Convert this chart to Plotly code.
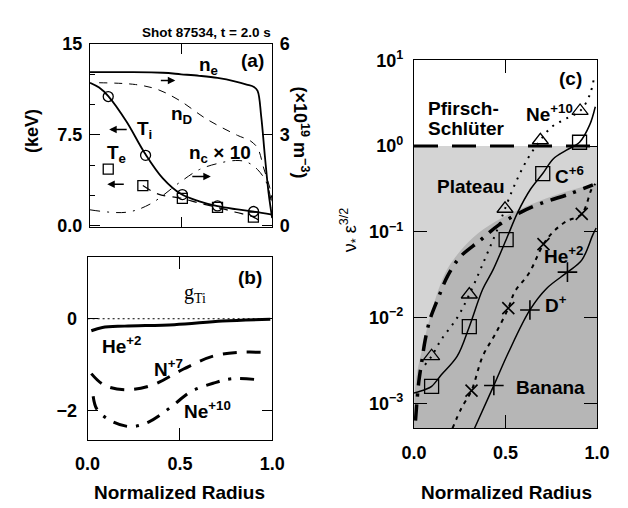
import plotly.graph_objects as go

W, H = 628, 508
FONT = "Liberation Sans"

# ---------------- Panel (a) data ----------------
ne_r = [0, 0.2, 0.4, 0.5, 0.6, 0.7, 0.8, 0.86, 0.9, 0.92, 0.94, 0.96, 0.98, 1.0]
ne_v = [5.07, 5.07, 5.05, 5.0, 4.95, 4.88, 4.76, 4.66, 4.58, 4.45, 3.6, 2.3, 1.1, 0.25]   # 1e19 m^-3

nD_r = [0.05, 0.25, 0.37, 0.49, 0.64, 0.81, 0.88, 0.92, 0.955, 0.99, 1.0]
nD_v = [4.72, 4.66, 4.5, 4.14, 3.52, 2.98, 2.8, 2.56, 1.87, 1.18, 0.8]

nc_r = [0, 0.2, 0.33, 0.5, 0.6, 0.7, 0.8, 0.86, 0.92, 0.97, 1.0]
nc_v = [0.52, 0.44, 0.71, 1.46, 1.85, 2.05, 2.15, 2.1, 1.85, 1.4, 0.6]   # n_c x 10

Ti_r = [0, 0.05, 0.1, 0.2, 0.3, 0.4, 0.5, 0.6, 0.7, 0.8, 0.9, 1.0]
Ti_v = [11.8, 11.4, 10.7, 8.6, 6.0, 3.9, 2.6, 2.0, 1.6, 1.35, 1.15, 0.9]   # keV
Ti_pts_r = [0.1, 0.305, 0.507, 0.70, 0.898]
Ti_pts_v = [10.66, 5.8, 2.56, 1.62, 1.16]

Te_r = [0.29, 0.375, 0.507, 0.6, 0.7, 0.8, 0.897, 0.95]
Te_v = [3.3, 2.6, 2.24, 1.85, 1.5, 1.1, 0.7, 0.2]
Te_pts_r = [0.1, 0.29, 0.507, 0.70, 0.897]
Te_pts_v = [4.67, 3.3, 2.24, 1.5, 0.7]

# ---------------- Panel (b) data ----------------
gHe_r = [0.02, 0.08, 0.2, 0.47, 0.73, 0.99]
gHe_v = [-0.26, -0.19, -0.16, -0.13, -0.05, -0.01]
gN_r = [0.02, 0.09, 0.21, 0.35, 0.52, 0.68, 0.82, 0.96]
gN_v = [-1.19, -1.44, -1.54, -1.44, -1.09, -0.81, -0.73, -0.73]
gNe_r = [0.03, 0.05, 0.12, 0.23, 0.33, 0.45, 0.56, 0.68, 0.78, 0.94]
gNe_v = [-1.68, -1.96, -2.2, -2.34, -2.24, -1.92, -1.58, -1.40, -1.30, -1.33]

# ---------------- Panel (c) data ----------------
ps_level = 1.0
band_r = [0.0, 0.009, 0.044, 0.096, 0.148, 0.2, 0.32, 0.445, 0.585, 0.81, 1.0]
band_v = [6.3e-4, 1.78e-3, 4.27e-3, 1.17e-2, 2.57e-2, 4.27e-2, 8.5e-2, 0.132, 0.186, 0.285, 0.369]

pb_r = [0.008, 0.026, 0.044, 0.061, 0.087, 0.131, 0.183, 0.253, 0.358, 0.462, 0.585, 0.707, 0.846, 0.977]
pb_v = [6.3e-4, 1.78e-3, 3.24e-3, 5.5e-3, 9.5e-3, 1.67e-2, 3.05e-2, 5.13e-2, 7.85e-2, 0.12, 0.17, 0.22, 0.275, 0.353]

Ne_r = [0.06, 0.096, 0.148, 0.236, 0.302, 0.41, 0.45, 0.497, 0.55, 0.62, 0.69, 0.75, 0.83, 0.907, 0.96, 0.985]
Ne_v = [2.82e-3, 3.55e-3, 5.5e-3, 1.0e-2, 1.86e-2, 6.3e-2, 0.1, 0.186, 0.355, 0.708, 1.17, 1.66, 2.09, 2.57, 3.98, 6.6]
Ne_pts_r = [0.096, 0.302, 0.497, 0.69, 0.907]
Ne_pts_v = [3.55e-3, 1.86e-2, 0.186, 1.17, 2.57]

C_r = [0.0, 0.061, 0.096, 0.148, 0.236, 0.302, 0.375, 0.43, 0.503, 0.567, 0.637, 0.703, 0.76, 0.83, 0.904, 0.96, 0.99]
C_v = [1.32e-3, 1.45e-3, 1.58e-3, 2.14e-3, 3.55e-3, 7.85e-3, 2.14e-2, 3.55e-2, 8.1e-2, 0.17, 0.316, 0.479, 0.708, 0.891, 1.11, 1.78, 2.88]
C_pts_r = [0.096, 0.302, 0.503, 0.703, 0.904]
C_pts_v = [1.58e-3, 7.85e-3, 8.1e-2, 0.479, 1.11]

He_r = [0.21, 0.26, 0.314, 0.375, 0.445, 0.515, 0.55, 0.628, 0.707, 0.76, 0.83, 0.916, 0.97, 0.99]
He_v = [5.1e-4, 8.9e-4, 1.41e-3, 3.55e-3, 6.5e-3, 1.29e-2, 2.0e-2, 3.3e-2, 7.2e-2, 0.1, 0.132, 0.162, 0.316, 0.363]
He_pts_r = [0.314, 0.515, 0.707, 0.916]
He_pts_v = [1.41e-3, 1.29e-2, 7.2e-2, 0.162]

D_r = [0.33, 0.436, 0.515, 0.633, 0.724, 0.838, 0.916, 0.977, 0.995]
D_v = [5.1e-4, 1.62e-3, 3.89e-3, 1.23e-2, 2.19e-2, 3.39e-2, 4.68e-2, 9.3e-2, 0.111]
D_pts_r = [0.436, 0.633, 0.838]
D_pts_v = [1.62e-3, 1.23e-2, 3.39e-2]

c_ticks = [1e-3, 1e-2, 1e-1, 1e0, 1e1]
c_ticktext = ["10<sup>−3</sup>", "10<sup>−2</sup>", "10<sup>−1</sup>", "10<sup>0</sup>", "10<sup>1</sup>"]


def px(x):
    return x / W


def py(y):
    return 1 - y / H


fig = go.Figure()
K = "black"

def line(x, y, xa, ya, width=1.5, dash="solid", shape="spline", **kw):
    fig.add_trace(go.Scatter(x=x, y=y, xaxis=xa, yaxis=ya, mode="lines",
                             line=dict(color=K, width=width, dash=dash, shape=shape),
                             hoverinfo="skip", **kw))

def marks(x, y, xa, ya, symbol, size, lw=1.3):
    fig.add_trace(go.Scatter(x=x, y=y, xaxis=xa, yaxis=ya, mode="markers",
                             marker=dict(symbol=symbol, size=size, color=K,
                                         line=dict(color=K, width=lw)),
                             hoverinfo="skip"))

# Panel (a)
line(ne_r, ne_v, "x", "y2", width=1.8)
line(nD_r, nD_v, "x", "y2", width=1.0, dash="8px,7px")
line(nc_r, nc_v, "x", "y2", width=1.0, dash="10px,7px,2px,7px")
line(Ti_r, Ti_v, "x", "y", width=1.8)
marks(Ti_pts_r, Ti_pts_v, "x", "y", "circle-open", 10)
line(Te_r, Te_v, "x", "y", width=1.2, dash="9px,7px")
marks(Te_pts_r, Te_pts_v, "x", "y", "square-open", 10)

# Panel (b)
line(gHe_r, gHe_v, "x2", "y3", width=3)
line(gN_r, gN_v, "x2", "y3", width=3, dash="14px,10px")
line(gNe_r, gNe_v, "x2", "y3", width=3, dash="14px,9px,3px,9px")

# Panel (c)
fig.add_trace(go.Scatter(x=[0, 1, 1, 0], y=[ps_level, ps_level, 1e-4, 1e-4], xaxis="x3", yaxis="y4",
                         mode="lines", fill="toself", fillcolor="#d4d4d4", line=dict(width=0),
                         hoverinfo="skip"))
fig.add_trace(go.Scatter(x=[0, 1], y=[1e-4, 1e-4], xaxis="x3", yaxis="y4", mode="lines",
                         line=dict(width=0), hoverinfo="skip"))
fig.add_trace(go.Scatter(x=band_r, y=band_v, xaxis="x3", yaxis="y4", mode="lines",
                         fill="tonexty", fillcolor="#b6b6b6",
                         line=dict(width=0, shape="spline"), hoverinfo="skip"))
line([0, 1], [ps_level, ps_level], "x3", "y4", width=3, dash="24px,14px", shape="linear")
line(pb_r, pb_v, "x3", "y4", width=3.5, dash="16px,8px,3px,8px")
line(Ne_r, Ne_v, "x3", "y4", width=2, dash="2px,6px")
marks(Ne_pts_r, Ne_pts_v, "x3", "y4", "triangle-up-open", 14)
line(C_r, C_v, "x3", "y4", width=1.5)
marks(C_pts_r, C_pts_v, "x3", "y4", "square-open", 14)
line(He_r, He_v, "x3", "y4", width=2, dash="4px,5px")
marks(He_pts_r, He_pts_v, "x3", "y4", "x-thin-open", 12, lw=1.6)
line(D_r, D_v, "x3", "y4", width=1.5)
marks(D_pts_r, D_pts_v, "x3", "y4", "cross-thin-open", 14, lw=1.6)

tickfont = dict(family=FONT, size=18, color=K, weight="bold")
ax_common = dict(showline=True, linecolor=K, linewidth=1.2, mirror="ticks", ticks="inside",
                 tickcolor=K, tickwidth=1.2, showgrid=False, zeroline=False, tickfont=tickfont)
ax_nomirror = {k: v for k, v in ax_common.items() if k != "mirror"}

layout = dict(
    width=W, height=H, margin=dict(l=0, r=0, t=0, b=0),
    paper_bgcolor="white", plot_bgcolor="rgba(0,0,0,0)", showlegend=False,
    font=dict(family=FONT, color=K),
    xaxis=dict(domain=[px(72), px(262)], range=[0, 1], anchor="y", tickvals=[0, 0.5, 1],
               showticklabels=False, ticklen=10, **ax_common),
    yaxis=dict(domain=[py(216), py(25)], range=[-0.16, 15], anchor="x", tickvals=[0, 7.5, 15],
               ticktext=["0.0", "7.5", "15"], ticklen=10, ticklabelstandoff=3,
               minor=dict(tickvals=[2.5, 5, 10, 12.5], ticks="inside", ticklen=5, tickcolor=K),
               mirror=False, **ax_nomirror),
    yaxis2=dict(overlaying="y", side="right", anchor="x", range=[-0.064, 6], tickvals=[0, 3, 6],
                ticktext=["0", "3", "6"], ticklen=10, ticklabelstandoff=3,
                mirror=False, **ax_nomirror),
    xaxis2=dict(domain=[px(69.5), px(262)], range=[0, 1], anchor="y3", tickvals=[0, 0.5, 1],
                ticktext=["0.0", "0.5", "1.0"], ticklen=12, ticklabelstandoff=8, **ax_common),
    yaxis3=dict(domain=[py(437), py(247)], range=[-2.625, 1.333], anchor="x2", tickvals=[0, -2],
                ticktext=["0", "−2"], ticklen=10, ticklabelstandoff=6, **ax_common),
    xaxis3=dict(domain=[px(410), px(601)], range=[0, 1], anchor="y4", tickvals=[0, 0.5, 1],
                ticktext=["0.0", "0.5", "1.0"], ticklen=13, ticklabelstandoff=8, **ax_common),
    yaxis4=dict(domain=[py(425), py(42)], type="log", range=[-3.29, 1.0], anchor="x3",
                tickvals=c_ticks, ticktext=c_ticktext, ticklen=13, ticklabelstandoff=6, **ax_common),
)
fig.update_layout(**layout)

# zero reference line in (b)
fig.add_shape(type="line", xref="x2 domain", yref="y3", x0=0, x1=1, y0=0, y1=0,
              line=dict(color=K, width=1, dash="2px,3px"))

def txt(x, y, s, size=19, bold=True, xanchor="center", angle=0, family=FONT):
    f = dict(family=family, size=size, color=K)
    if bold:
        f["weight"] = "bold"
    fig.add_annotation(x=px(x), y=py(y), xref="paper", yref="paper", text=s, showarrow=False,
                       xanchor=xanchor, yanchor="middle", font=f, textangle=angle)

def arrow(hx, hy, tx, ty):
    fig.add_annotation(x=px(hx), y=py(hy), xref="paper", yref="paper", text="", showarrow=True,
                       ax=tx - hx, ay=ty - hy, axref="pixel", ayref="pixel",
                       arrowhead=2, arrowsize=1, arrowwidth=1.5, arrowcolor=K)

# Panel (a) texts
txt(263, 13, "Shot 87534, t = 2.0 s", size=13.5, xanchor="right")
txt(196, 48, "n<sub>e</sub>")
txt(242, 42, "(a)")
txt(168, 99, "n<sub>D</sub>")
txt(129, 114, "T<sub>i</sub>")
txt(208, 140, "n<sub>c</sub> × 10")
txt(100, 140, "T<sub>e</sub>")
txt(12, 116, "(keV)", size=18, angle=-90)
txt(292, 117, "(×10<sup>19</sup> m<sup>−3</sup>)", size=18, angle=90)
arrow(92, 114, 111, 114)
arrow(90, 171, 108, 171)
arrow(161, 63, 145, 63)
arrow(198, 163, 178, 163)

# Panel (b) texts
txt(182, 285, "g<sub>Ti</sub>", size=20, bold=False, family="Liberation Serif")
txt(239, 268, "(b)")
txt(105, 338, "He<sup>+2</sup>")
txt(154, 362, "N<sup>+7</sup>")
txt(195, 406, "Ne<sup>+10</sup>")

# Panel (c) texts
txt(573, 61, "(c)")
txt(422, 92, "Pfirsch-", xanchor="left")
txt(422, 113, "Schlüter", xanchor="left")
txt(551, 97, "Ne<sup>+10</sup>")
txt(572, 161, "C<sup>+6</sup>")
txt(469, 173, "Plateau")
txt(566, 245, "He<sup>+2</sup>")
txt(558, 296, "D<sup>+</sup>")
txt(552, 383, "Banana")
txt(343, 219, "ν<sub>*</sub> ε<sup>3/2</sup>", size=18, bold=False, angle=-90)

# x titles
txt(165, 492, "Normalized Radius")
txt(506, 492, "Normalized Radius")

fig.write_html("out.html")
